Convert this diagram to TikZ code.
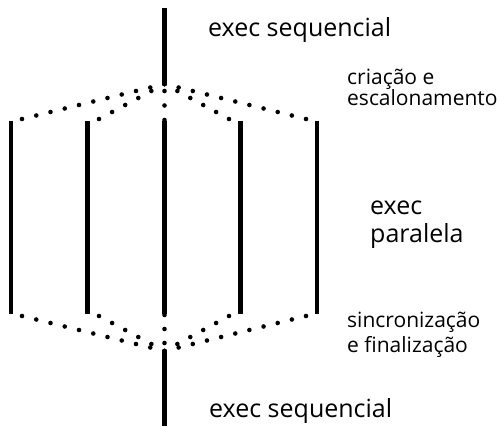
\documentclass[tikz,border=0pt]{standalone}
\usepackage{fontspec}
\setmainfont{Open Sans}
\usetikzlibrary{calc}
\begin{document}
\begin{tikzpicture}[x=1pt,y=-1pt,
  bar/.style={line width=4.5pt},
  dotc/.style={fill=black},
  big/.style={font=\fontsize{25}{30}\selectfont, anchor=base west, inner sep=0pt},
  small/.style={font=\fontsize{21}{25}\selectfont, anchor=base west, inner sep=0pt},
]
\useasboundingbox (0,0) rectangle (501,427);
% main sequential lines
\coordinate (t0) at (164.5,8);
\coordinate (fork) at (164.5,84);
\coordinate (join) at (164.5,351);
\coordinate (b0) at (164.5,426);
\draw[bar] (t0) -- (fork);
\draw[bar] (join) -- (b0);
% parallel lines
\foreach \n/\x in {1/11,2/87.5,3/164.5,4/240.5,5/317}{
  \coordinate (p\n t) at (\x,121);
  \coordinate (p\n b) at (\x,314);
  \draw[bar] (p\n t) -- (p\n b);
}
% dotted fork / join lines
\foreach \sx/\n in {22/10,99/5,229/5,306/10}{
  \foreach \i in {0,...,\n}{
    \fill[dotc] ($(\sx,119)!{\i/\n}!(fork)$) circle (2.3);
    \fill[dotc] ($(\sx,316)!{\i/\n}!(join)$) circle (2.3);
  }
}
\foreach \y in {84,91,105.5,120}{ \fill[dotc] (164.5,\y) circle (2.3); }
\foreach \y in {315,329,343,352}{ \fill[dotc] (164.5,\y) circle (2.3); }
% labels
\node[big] (s1) at (208,37) {exec sequencial};
\node[big] (s2) at (209,418) {exec sequencial};
\node[small] (c1) at (347,85) {criação e};
\node[small] (c2) at (347,106) {escalonamento};
\node[big] (e1) at (370,215) {exec};
\node[big] (e2) at (370,243) {paralela};
\node[small] (f1) at (347,328) {sincronização};
\node[small] (f2) at (347,353) {e finalização};
\end{tikzpicture}
\end{document}
